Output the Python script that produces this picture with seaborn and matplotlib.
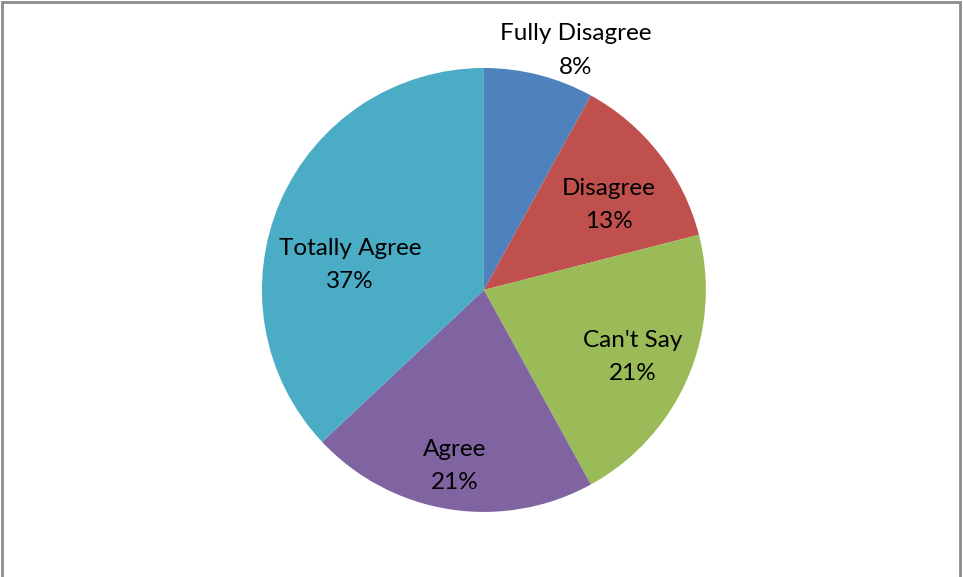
import matplotlib
matplotlib.use("Agg")
import matplotlib.pyplot as plt
import seaborn as sns
from matplotlib.patches import Rectangle

sns.set_theme(style="white")
plt.rcParams['font.family'] = ['Lato', 'DejaVu Sans']

# data
categorias = ['Fully Disagree', 'Disagree', "Can't Say", 'Agree', 'Totally Agree']
porcentajes = [8, 13, 21, 21, 37]
colores = ['#4F81BD', '#C0504D', '#9BBB59', '#8064A2', '#4BACC6']

# posiciones de las etiquetas (unidades del radio)
pos_etiquetas = [(0.414, 1.08), (0.563, 0.383), (0.671, -0.302), (-0.131, -0.793), (-0.604, 0.113)]

fig = plt.figure(figsize=(9.63, 5.77), dpi=100)
fig.patch.set_facecolor('white')
ax = fig.add_axes([0.272, 0.1127, 0.461, 0.7695])

ax.pie(porcentajes, colors=colores, startangle=90, counterclock=False,
       radius=1, wedgeprops={'linewidth': 0}, frame=False)
ax.set_xlim(-1, 1)
ax.set_ylim(-1, 1)
ax.set_aspect('equal')
ax.axis('off')

for cat, pct, (x, y) in zip(categorias, porcentajes, pos_etiquetas):
    ax.text(x, y, f'{cat}\n{pct}%', ha='center', va='center', fontsize=17.5,
            color='black', linespacing=1.75)

# marco gris
fig.add_artist(Rectangle((0.002, -0.05), 0.995, 1.046, transform=fig.transFigure,
                         fill=False, edgecolor='#8c8c8c', linewidth=2))

fig.savefig('out.png', dpi=100)
